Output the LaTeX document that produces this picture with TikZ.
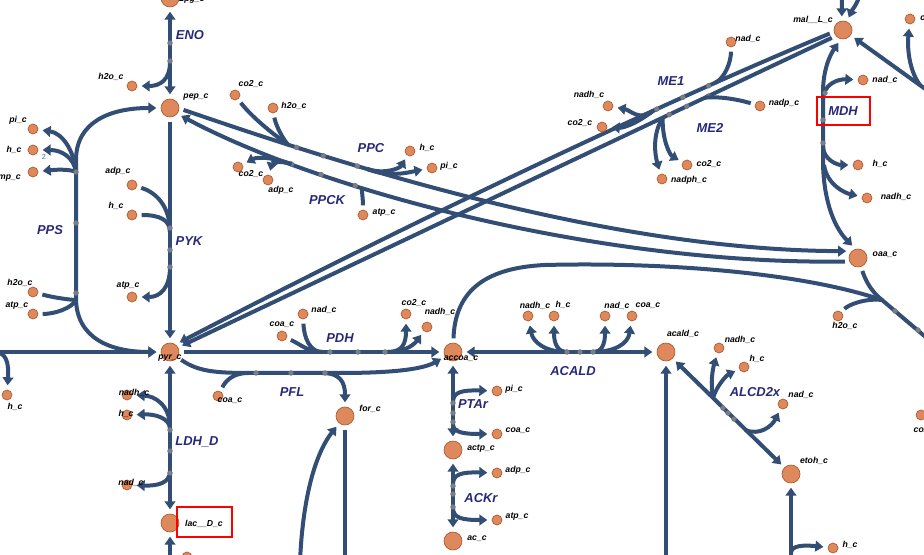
\documentclass[tikz,border=0pt]{standalone}
\usepackage{fontspec}
\setmainfont{Liberation Sans}
\usetikzlibrary{arrows.meta,backgrounds}
\definecolor{rxncol}{RGB}{51,78,117}
\definecolor{metfill}{RGB}{222,136,94}
\definecolor{metline}{RGB}{176,88,40}
\definecolor{lblcol}{RGB}{40,40,122}
\definecolor{mkfill}{RGB}{118,128,142}

\begin{document}
\begin{tikzpicture}[x=0.75pt,y=0.75pt,yscale=-1,xscale=1,
  met/.style={circle,fill=metfill,draw=metline,line width=0.5pt,inner sep=0pt,minimum size=13.5pt,outer sep=3.5pt},
  metsm/.style={met,minimum size=7.5pt},
  lbl/.style={inner sep=0.75pt,font=\fontsize{6.5}{7}\selectfont\bfseries\itshape},
  rlbl/.style={inner sep=0.75pt,text=lblcol,font=\fontsize{9.7}{11}\selectfont\bfseries\itshape},
  rxn/.style={draw=rxncol,line width=3pt},
  mk/.style={circle,draw=black!55,fill=mkfill,line width=0.4pt,inner sep=0pt,minimum size=3.6pt},
  hibox/.style={draw=red,line width=2.2pt},
  >={Triangle[length=6pt,width=8pt]}]
\useasboundingbox (0,0) rectangle (924,555);

%Shape: Circle [metabolites, big]
\node[met] (g2p) at (170,-2) {};
\node[met] (pep) at (170,108) {};
\node[met] (pyr) at (170,352) {};
\node[met] (lac) at (170,523) {};
\node[met] (for) at (345,416) {};
\node[met] (accoa) at (453,352) {};
\node[met] (actp) at (453,450) {};
\node[met] (ac) at (453,541) {};
\node[met] (acald) at (666,352) {};
\node[met] (etoh) at (791,474) {};
\node[met] (mal) at (843,30) {};
\node[met] (oaa) at (858,258) {};
%Shape: Circle [metabolites, small]
\node[metsm] (h2oE) at (132,86) {};
\node[metsm] (piP) at (33,129) {};
\node[metsm] (hP) at (33,150) {};
\node[metsm] (ampP) at (33,172) {};
\node[metsm] (h2oP) at (33,292) {};
\node[metsm] (atpP) at (33,314) {};
\node[metsm] (adpK) at (132,185) {};
\node[metsm] (hK) at (132,215) {};
\node[metsm] (atpK) at (132,297) {};
\node[metsm] (hL) at (7,395) {};
\node[metsm] (nadhL) at (127,395) {};
\node[metsm] (hLd) at (127,415) {};
\node[metsm] (nadL) at (127,485) {};
\node[metsm] (hB) at (187,557) {};
\node[metsm] (coaP) at (218,396) {};
\node[metsm] (coaD) at (282,336) {};
\node[metsm] (nadD) at (303,314) {};
\node[metsm] (co2D) at (406,314) {};
\node[metsm] (nadhD) at (427,327) {};
\node[metsm] (piT) at (497,391) {};
\node[metsm] (coaT) at (497,434) {};
\node[metsm] (adpA) at (497,473) {};
\node[metsm] (atpA) at (497,520) {};
\node[metsm] (nadhA) at (528,316) {};
\node[metsm] (hA) at (554,316) {};
\node[metsm] (nadA) at (605,316) {};
\node[metsm] (coaA) at (632,316) {};
\node[metsm] (nadhX) at (719,348) {};
\node[metsm] (hX) at (744,367) {};
\node[metsm] (nadX) at (783,404) {};
\node[metsm] (hE) at (833,548) {};
\node[metsm] (co2R) at (921,415) {};
\node[metsm] (nadM) at (731,42) {};
\node[metsm] (nadhM) at (608,106) {};
\node[metsm] (co2M) at (602,127) {};
\node[metsm] (nadpM) at (760,106) {};
\node[metsm] (co2N) at (687,165) {};
\node[metsm] (nadphN) at (662,179) {};
\node[metsm] (nadH) at (863,80) {};
\node[metsm] (hH) at (858,165) {};
\node[metsm] (nadhH) at (867,198) {};
\node[metsm] (h2oC) at (838,316) {};
\node[metsm] (fumR) at (910,19) {};
\node[metsm] (co2C) at (235,95) {};
\node[metsm] (h2oC2) at (273,108) {};
\node[metsm] (hC) at (410,151) {};
\node[metsm] (piC) at (432,168) {};
\node[metsm] (co2K) at (238,167) {};
\node[metsm] (adpK2) at (268,180) {};
\node[metsm] (atpK2) at (363,215) {};

% Text Node [metabolite labels]
\node[lbl] (l-g2p) at (192,-1) {2pg\_c};
\node[lbl] (l-pep) at (196,97) {pep\_c};
\node[lbl] (l-h2oE) at (111,77) {h2o\_c};
\node[lbl] (l-piP) at (18,120) {pi\_c};
\node[lbl] (l-hP) at (14,150) {h\_c};
\node[lbl] (l-ampP) at (7,178) {amp\_c};
\node[lbl] (l-h2oP) at (20,283) {h2o\_c};
\node[lbl] (l-atpP) at (17,306) {atp\_c};
\node[lbl] (l-adpK) at (118,171) {adp\_c};
\node[lbl] (l-hK) at (116,206) {h\_c};
\node[lbl] (l-atpK) at (128,286) {atp\_c};
\node[lbl] (l-pyr) at (170,358) {pyr\_c};
\node[lbl] (l-hL) at (15,407) {h\_c};
\node[lbl] (l-nadhL) at (134,393) {nadh\_c};
\node[lbl] (l-hLd) at (126,414) {h\_c};
\node[lbl] (l-nadL) at (131,483) {nad\_c};
\node[lbl] (l-lac) at (204,524) {lac\_\_D\_c};
\node[lbl] (l-hB) at (256,561) {h\_c};
\node[lbl] (l-coaP) at (230,401) {coa\_c};
\node[lbl] (l-for) at (370,409) {for\_c};
\node[lbl] (l-coaD) at (282,325) {coa\_c};
\node[lbl] (l-nadD) at (324,310) {nad\_c};
\node[lbl] (l-co2D) at (414,303) {co2\_c};
\node[lbl] (l-nadhD) at (440,312) {nadh\_c};
\node[lbl] (l-accoa) at (461,359) {accoa\_c};
\node[lbl] (l-actp) at (481,449) {actp\_c};
\node[lbl] (l-ac) at (477,539) {ac\_c};
\node[lbl] (l-piT) at (514,389) {pi\_c};
\node[lbl] (l-coaT) at (518,431) {coa\_c};
\node[lbl] (l-adpA) at (518,470) {adp\_c};
\node[lbl] (l-atpA) at (517,517) {atp\_c};
\node[lbl] (l-nadhA) at (535,306) {nadh\_c};
\node[lbl] (l-hA) at (563,305) {h\_c};
\node[lbl] (l-nadA) at (617,306) {nad\_c};
\node[lbl] (l-coaA) at (648,306) {coa\_c};
\node[lbl] (l-acald) at (683,334) {acald\_c};
\node[lbl] (l-nadhX) at (740,340) {nadh\_c};
\node[lbl] (l-hX) at (757,359) {h\_c};
\node[lbl] (l-nadX) at (801,395) {nad\_c};
\node[lbl] (l-etoh) at (814,461) {etoh\_c};
\node[lbl] (l-hE) at (850,545) {h\_c};
\node[lbl] (l-co2R) at (926,430) {co2\_c};
\node[lbl] (l-mal) at (813,20) {mal\_\_L\_c};
\node[lbl] (l-nadM) at (748,39) {nad\_c};
\node[lbl] (l-nadhM) at (589,95) {nadh\_c};
\node[lbl] (l-co2M) at (580,123) {co2\_c};
\node[lbl] (l-nadpM) at (784,103) {nadp\_c};
\node[lbl] (l-co2N) at (709,164) {co2\_c};
\node[lbl] (l-nadphN) at (689,180) {nadph\_c};
\node[lbl] (l-nadH) at (885,80) {nad\_c};
\node[lbl] (l-hH) at (880,164) {h\_c};
\node[lbl] (l-nadhH) at (896,197) {nadh\_c};
\node[lbl] (l-oaa) at (885,255) {oaa\_c};
\node[lbl] (l-h2oC) at (845,326) {h2o\_c};
\node[lbl,anchor=west] (l-fumR) at (919,18) {co2\_c};
\node[lbl] (l-co2C) at (251,84) {co2\_c};
\node[lbl] (l-h2oC2) at (294,106) {h2o\_c};
\node[lbl] (l-hC) at (427,148) {h\_c};
\node[lbl] (l-piC) at (449,166) {pi\_c};
\node[lbl] (l-co2K) at (251,174) {co2\_c};
\node[lbl] (l-adpK2) at (281,190) {adp\_c};
\node[lbl] (l-atpK2) at (384,213) {atp\_c};
\node[inner sep=0pt,text=rxncol!80,font=\fontsize{5.5}{6}\selectfont] (stoich) at (44,157) {2};

% Text Node [reaction labels]
\node[rlbl] (r-eno) at (190,35) {ENO};
\node[rlbl] (r-pyk) at (189,241) {PYK};
\node[rlbl] (r-pps) at (50,230) {PPS};
\node[rlbl] (r-ldh) at (197,442) {LDH\_D};
\node[rlbl] (r-pdh) at (340,338) {PDH};
\node[rlbl] (r-pfl) at (292,392) {PFL};
\node[rlbl] (r-pta) at (473,404) {PTAr};
\node[rlbl] (r-ack) at (481,498) {ACKr};
\node[rlbl] (r-acald) at (573,371) {ACALD};
\node[rlbl] (r-alcd) at (755,392) {ALCD2x};
\node[rlbl] (r-me1) at (671,81) {ME1};
\node[rlbl] (r-me2) at (710,128) {ME2};
\node[rlbl] (r-mdh) at (843,111) {MDH};
\node[rlbl] (r-ppc) at (371,148) {PPC};
\node[rlbl] (r-ppck) at (327,200) {PPCK};

%Shape: Rectangle [highlight boxes]
\draw[hibox] (817,97) rectangle (870,125);
\draw[hibox] (177,507) rectangle (232,537);

%Shape: Circle [midmarkers on straight lines]
\foreach \mx/\my [count=\i] in {170/43,170/61,170/228,170/250,170/267,76/172,76/223,76/293,
    170/430,170/451,170/473,330/352,358/352,385/352,256/373,291/373,325/373,
    453/403,453/413,453/422,453/486,453/494,453/507,567/352,580/352,593/352,
    723/408,728/413,734/419,825/93,823/120,823/143,895/311,918/330}
  \node[mk] (mk\i) at (\mx,\my) {};

\begin{scope}[on background layer]
% ENO
\coordinate (enoj) at (170,62);
\draw[rxn,<->] (g2p) -- (pep);
\draw[rxn,->] (enoj) .. controls (170,80) and (160,86) .. (h2oE);
% PYK
\coordinate (pykj1) at (170,232);
\coordinate (pykj2) at (170,267);
\draw[rxn,->] (pep) -- (pyr);
\draw[rxn] (adpK) .. controls (155,192) and (170,205) .. (pykj1);
\draw[rxn] (hK) .. controls (160,215) and (170,220) .. (pykj1);
\draw[rxn,->] (pykj2) .. controls (170,288) and (160,297) .. (atpK);
% PPS
\coordinate (ppsj1) at (76,172);
\coordinate (ppsj2) at (76,300);
\draw[rxn,<->] (pyr) .. controls (110,352) and (76,338) .. (76,298) -- (76,160) .. controls (76,122) and (110,108) .. (pep);
\draw[rxn,->] (ppsj1) .. controls (74,150) and (62,133) .. (piP);
\draw[rxn,->] (ppsj1) .. controls (74,158) and (62,150) .. (hP);
\draw[rxn,->] (ppsj1) .. controls (72,170) and (62,169) .. (ampP);
\draw[rxn] (h2oP) .. controls (55,298) and (72,300) .. (ppsj2);
\draw[rxn] (atpP) .. controls (55,314) and (72,308) .. (ppsj2);
% left exchange
\coordinate (lft) at (-6,352);
\draw[rxn,->] (lft) -- (pyr);
\draw[rxn,->] (lft) .. controls (6,352) and (9,362) .. (hL);
% LDH_D
\coordinate (ldhj1) at (170,428);
\coordinate (ldhj2) at (170,471);
\coordinate (lacb) at (170,562);
\draw[rxn,<->] (pyr) -- (lac);
\draw[rxn,->] (ldhj1) .. controls (170,405) and (155,396) .. (nadhL);
\draw[rxn,->] (ldhj1) .. controls (169,418) and (155,414) .. (hLd);
\draw[rxn,->] (ldhj2) .. controls (170,483) and (158,486) .. (nadL);
\draw[rxn,->] (lacb) -- (lac);
% PDH
\coordinate (pdhj1) at (322,352);
\coordinate (pdhj2) at (388,352);
\draw[rxn,->] (pyr) -- (accoa);
\draw[rxn] (coaD) .. controls (300,344) and (308,352) .. (pdhj1);
\draw[rxn] (nadD) .. controls (304,338) and (310,352) .. (pdhj1);
\draw[rxn,->] (pdhj2) .. controls (402,352) and (406,344) .. (co2D);
\draw[rxn,->] (pdhj2) .. controls (408,352) and (416,342) .. (nadhD);
% PFL
\coordinate (pflj1) at (248,373);
\coordinate (pflj2) at (322,373);
\coordinate (forb) at (345,562);
\coordinate (forc) at (300,562);
\draw[rxn,->] (pyr) .. controls (200,373) and (220,373) .. (260,373) -- (340,373) .. controls (400,373) and (425,368) .. (accoa);
\draw[rxn] (coaP) .. controls (225,382) and (232,373) .. (pflj1);
\draw[rxn,->] (pflj2) .. controls (340,373) and (345,382) .. (for);
\draw[rxn] (for) -- (forb);
\draw[rxn,->] (forc) .. controls (303,490) and (318,450) .. (for);
% PTAr
\coordinate (ptaj1) at (453,402);
\coordinate (ptaj2) at (453,424);
\draw[rxn,<->] (accoa) -- (actp);
\draw[rxn,->] (ptaj1) .. controls (453,392) and (462,390) .. (piT);
\draw[rxn,->] (ptaj2) .. controls (453,432) and (462,434) .. (coaT);
% ACKr
\coordinate (ackj1) at (453,484);
\coordinate (ackj2) at (453,508);
\draw[rxn,<->] (actp) -- (ac);
\draw[rxn,->] (ackj1) .. controls (453,474) and (462,472) .. (adpA);
\draw[rxn,->] (ackj2) .. controls (453,518) and (462,520) .. (atpA);
% ACALD
\coordinate (acdj1) at (567,352);
\coordinate (acdj2) at (593,352);
\draw[rxn,<->] (accoa) -- (acald);
\draw[rxn,->] (acdj1) .. controls (545,352) and (533,342) .. (nadhA);
\draw[rxn,->] (acdj1) .. controls (558,352) and (554,344) .. (hA);
\draw[rxn,->] (acdj2) .. controls (602,352) and (605,344) .. (nadA);
\draw[rxn,->] (acdj2) .. controls (614,352) and (628,344) .. (coaA);
% ALCD2x
\coordinate (alcj1) at (713,398);
\coordinate (alcj2) at (745,430);
\coordinate (etob) at (791,562);
\coordinate (etoj) at (791,553);
\coordinate (acab) at (666,562);
\draw[rxn,<->] (acald) -- (etoh);
\draw[rxn,->] (alcj1) .. controls (710,383) and (713,368) .. (nadhX);
\draw[rxn,->] (alcj1) .. controls (717,385) and (727,375) .. (hX);
\draw[rxn,->] (alcj2) .. controls (760,436) and (772,426) .. (nadX);
\draw[rxn,->] (etob) -- (etoh);
\draw[rxn,->] (etoj) .. controls (791,545) and (805,545) .. (hE);
\draw[rxn,->] (acab) -- (acald);
% ME1 / ME2
\draw[rxn,->] (mal.195) .. controls (640,112) and (380,238) .. (pyr.45)
  coordinate[pos=0.19] (me1j1) coordinate[pos=0.285] (me1j2)
  node[mk,pos=0.2] (mkme1a) {} node[mk,pos=0.24] (mkme1b) {} node[mk,pos=0.28] (mkme1c) {};
\draw[rxn,->] (mal.215) .. controls (615,140) and (398,243) .. (pyr.28)
  coordinate[pos=0.195] (me2j1) coordinate[pos=0.26] (me2j2)
  node[mk,pos=0.19] (mkme2a) {} node[mk,pos=0.223] (mkme2b) {} node[mk,pos=0.25] (mkme2c) {};
\draw[rxn] (nadM) .. controls (731,62) and (725,78) .. (me1j1);
\draw[rxn,->] (me1j2) .. controls (640,122) and (630,110) .. (nadhM);
\draw[rxn,->] (me1j2) .. controls (635,125) and (622,128) .. (co2M);
\draw[rxn] (nadpM) .. controls (740,100) and (720,96) .. (me2j1);
\draw[rxn,->] (me2j2) .. controls (652,135) and (655,155) .. (nadphN);
\draw[rxn,->] (me2j2) .. controls (662,140) and (670,155) .. (co2N);
% PPC
\draw[rxn,->] (pep.-8) .. controls (330,160) and (600,250) .. (oaa.150)
  coordinate[pos=0.205] (ppcj1) coordinate[pos=0.335] (ppcj2)
  node[mk,pos=0.22] (mkppc1) {} node[mk,pos=0.265] (mkppc2) {} node[mk,pos=0.32] (mkppc3) {};
\draw[rxn] (co2C) .. controls (250,115) and (270,132) .. (ppcj1);
\draw[rxn] (h2oC2) .. controls (275,122) and (280,135) .. (ppcj1);
\draw[rxn,->] (ppcj2) .. controls (385,175) and (400,168) .. (hC);
\draw[rxn,->] (ppcj2) .. controls (390,178) and (410,172) .. (piC);
% PPCK
\draw[rxn,->] (oaa.195) .. controls (600,265) and (320,190) .. (pep.-35)
  coordinate[pos=0.78] (ppckj1) coordinate[pos=0.665] (ppckj2)
  node[mk,pos=0.78] (mkppck1) {} node[mk,pos=0.73] (mkppck2) {} node[mk,pos=0.675] (mkppck3) {};
\draw[rxn,->] (ppckj1) .. controls (265,155) and (255,158) .. (co2K);
\draw[rxn,->] (ppckj1) .. controls (278,160) and (272,163) .. (adpK2);
\draw[rxn] (atpK2) .. controls (363,200) and (362,192) .. (ppckj2);
% MDH
\coordinate (mdht) at (823,92);
\coordinate (mdhb) at (823,160);
\coordinate (mdhj1) at (823,100);
\coordinate (mdhj2) at (823,146);
\coordinate (mdhj3) at (824,165);
\draw[rxn,<->] (oaa.115) .. controls (832,225) and (823,195) .. (mdhb) -- (mdht) .. controls (823,70) and (830,55) .. (mal.250);
\draw[rxn,->] (mdhj1) .. controls (823,84) and (838,79) .. (nadH);
\draw[rxn,->] (mdhj2) .. controls (823,160) and (838,165) .. (hH);
\draw[rxn,->] (mdhj3) .. controls (827,185) and (845,193) .. (nadhH);
% CS
\coordinate (csj) at (882,300);
\coordinate (cse) at (935,345);
\draw[rxn] (accoa) .. controls (455,295) and (480,268) .. (545,265) .. controls (660,262) and (800,272) .. (csj) -- (cse);
\draw[rxn] (oaa) .. controls (866,282) and (872,292) .. (csj);
\draw[rxn] (h2oC) .. controls (848,305) and (865,298) .. (csj);
% mal_L_c, top and right
\coordinate (malt1) at (842,-6);
\coordinate (malt2) at (860,-6);
\coordinate (malr) at (935,96);
\coordinate (malrj) at (920,85);
\draw[rxn,->] (malt1) -- (mal.95);
\draw[rxn,->] (malt2) .. controls (857,5) and (852,10) .. (mal.65);
\draw[rxn,->] (malr) -- (mal.-35);
\draw[rxn,->] (malrj) .. controls (910,72) and (907,50) .. (fumR);
\end{scope}

\end{tikzpicture}
\end{document}
